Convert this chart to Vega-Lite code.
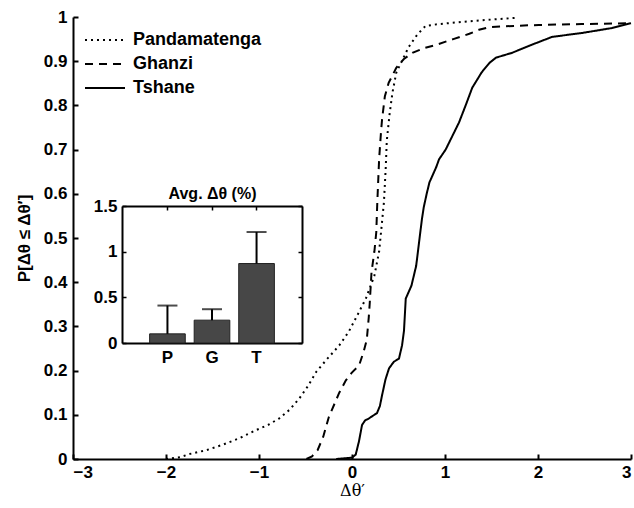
{
  "$schema": "https://vega.github.io/schema/vega-lite/v6.json",
  "width": 558,
  "height": 442,
  "autosize": "none",
  "padding": {"left": 73, "top": 17, "right": 3, "bottom": 49},
  "background": "white",
  "config": {
    "view": {"stroke": null},
    "font": "Liberation Sans",
    "axis": {"labelFont": "Liberation Sans", "labelFontWeight": "bold", "labelFontSize": 17, "labelColor": "black", "domainColor": "black", "tickColor": "black", "grid": false}
  },
  "layer": [
    {
      "data": {"values": [
        {"s": "Pandamatenga", "x": -2.0, "y": 0},
        {"s": "Pandamatenga", "x": -1.85, "y": 0.004},
        {"s": "Pandamatenga", "x": -1.751, "y": 0.011},
        {"s": "Pandamatenga", "x": -1.567, "y": 0.02},
        {"s": "Pandamatenga", "x": -1.394, "y": 0.032},
        {"s": "Pandamatenga", "x": -1.21, "y": 0.047},
        {"s": "Pandamatenga", "x": -1.036, "y": 0.065},
        {"s": "Pandamatenga", "x": -0.903, "y": 0.077},
        {"s": "Pandamatenga", "x": -0.781, "y": 0.092},
        {"s": "Pandamatenga", "x": -0.668, "y": 0.112},
        {"s": "Pandamatenga", "x": -0.566, "y": 0.137},
        {"s": "Pandamatenga", "x": -0.474, "y": 0.165},
        {"s": "Pandamatenga", "x": -0.382, "y": 0.198},
        {"s": "Pandamatenga", "x": -0.26, "y": 0.228},
        {"s": "Pandamatenga", "x": -0.137, "y": 0.257},
        {"s": "Pandamatenga", "x": -0.035, "y": 0.288},
        {"s": "Pandamatenga", "x": 0.057, "y": 0.325},
        {"s": "Pandamatenga", "x": 0.149, "y": 0.363},
        {"s": "Pandamatenga", "x": 0.241, "y": 0.415},
        {"s": "Pandamatenga", "x": 0.292, "y": 0.47},
        {"s": "Pandamatenga", "x": 0.312, "y": 0.513},
        {"s": "Pandamatenga", "x": 0.343, "y": 0.58},
        {"s": "Pandamatenga", "x": 0.363, "y": 0.66},
        {"s": "Pandamatenga", "x": 0.374, "y": 0.72},
        {"s": "Pandamatenga", "x": 0.404, "y": 0.78},
        {"s": "Pandamatenga", "x": 0.435, "y": 0.829},
        {"s": "Pandamatenga", "x": 0.476, "y": 0.874},
        {"s": "Pandamatenga", "x": 0.547, "y": 0.905},
        {"s": "Pandamatenga", "x": 0.609, "y": 0.932},
        {"s": "Pandamatenga", "x": 0.701, "y": 0.96},
        {"s": "Pandamatenga", "x": 0.792, "y": 0.98},
        {"s": "Pandamatenga", "x": 0.936, "y": 0.984},
        {"s": "Pandamatenga", "x": 1.242, "y": 0.99},
        {"s": "Pandamatenga", "x": 1.548, "y": 0.995},
        {"s": "Pandamatenga", "x": 1.763, "y": 0.998},
        {"s": "Ghanzi", "x": -0.49, "y": 0},
        {"s": "Ghanzi", "x": -0.43, "y": 0.006},
        {"s": "Ghanzi", "x": -0.37, "y": 0.02},
        {"s": "Ghanzi", "x": -0.31, "y": 0.05},
        {"s": "Ghanzi", "x": -0.249, "y": 0.095},
        {"s": "Ghanzi", "x": -0.137, "y": 0.15},
        {"s": "Ghanzi", "x": -0.066, "y": 0.178},
        {"s": "Ghanzi", "x": -0.004, "y": 0.195},
        {"s": "Ghanzi", "x": 0.077, "y": 0.212},
        {"s": "Ghanzi", "x": 0.128, "y": 0.245},
        {"s": "Ghanzi", "x": 0.159, "y": 0.27},
        {"s": "Ghanzi", "x": 0.18, "y": 0.32},
        {"s": "Ghanzi", "x": 0.19, "y": 0.35},
        {"s": "Ghanzi", "x": 0.21, "y": 0.423},
        {"s": "Ghanzi", "x": 0.241, "y": 0.47},
        {"s": "Ghanzi", "x": 0.261, "y": 0.513},
        {"s": "Ghanzi", "x": 0.272, "y": 0.58},
        {"s": "Ghanzi", "x": 0.292, "y": 0.68},
        {"s": "Ghanzi", "x": 0.312, "y": 0.74},
        {"s": "Ghanzi", "x": 0.323, "y": 0.768},
        {"s": "Ghanzi", "x": 0.353, "y": 0.82},
        {"s": "Ghanzi", "x": 0.394, "y": 0.851},
        {"s": "Ghanzi", "x": 0.476, "y": 0.885},
        {"s": "Ghanzi", "x": 0.558, "y": 0.905},
        {"s": "Ghanzi", "x": 0.649, "y": 0.919},
        {"s": "Ghanzi", "x": 0.782, "y": 0.93},
        {"s": "Ghanzi", "x": 0.905, "y": 0.937},
        {"s": "Ghanzi", "x": 1.089, "y": 0.95},
        {"s": "Ghanzi", "x": 1.262, "y": 0.962},
        {"s": "Ghanzi", "x": 1.365, "y": 0.971},
        {"s": "Ghanzi", "x": 1.477, "y": 0.977},
        {"s": "Ghanzi", "x": 1.753, "y": 0.98},
        {"s": "Ghanzi", "x": 2.008, "y": 0.982},
        {"s": "Ghanzi", "x": 2.468, "y": 0.984},
        {"s": "Ghanzi", "x": 3.0, "y": 0.986},
        {"s": "Tshane", "x": -0.17, "y": 0},
        {"s": "Tshane", "x": 0.0, "y": 0.003},
        {"s": "Tshane", "x": 0.04, "y": 0.01},
        {"s": "Tshane", "x": 0.075, "y": 0.04},
        {"s": "Tshane", "x": 0.108, "y": 0.077},
        {"s": "Tshane", "x": 0.14, "y": 0.087},
        {"s": "Tshane", "x": 0.183, "y": 0.092},
        {"s": "Tshane", "x": 0.269, "y": 0.104},
        {"s": "Tshane", "x": 0.3, "y": 0.12},
        {"s": "Tshane", "x": 0.323, "y": 0.144},
        {"s": "Tshane", "x": 0.36, "y": 0.18},
        {"s": "Tshane", "x": 0.398, "y": 0.205},
        {"s": "Tshane", "x": 0.45, "y": 0.22},
        {"s": "Tshane", "x": 0.505, "y": 0.227},
        {"s": "Tshane", "x": 0.538, "y": 0.257},
        {"s": "Tshane", "x": 0.559, "y": 0.29},
        {"s": "Tshane", "x": 0.578, "y": 0.363},
        {"s": "Tshane", "x": 0.639, "y": 0.392},
        {"s": "Tshane", "x": 0.69, "y": 0.437},
        {"s": "Tshane", "x": 0.721, "y": 0.49},
        {"s": "Tshane", "x": 0.752, "y": 0.543},
        {"s": "Tshane", "x": 0.772, "y": 0.57},
        {"s": "Tshane", "x": 0.803, "y": 0.6},
        {"s": "Tshane", "x": 0.833, "y": 0.626},
        {"s": "Tshane", "x": 0.905, "y": 0.66},
        {"s": "Tshane", "x": 0.936, "y": 0.678},
        {"s": "Tshane", "x": 1.007, "y": 0.7},
        {"s": "Tshane", "x": 1.15, "y": 0.761},
        {"s": "Tshane", "x": 1.222, "y": 0.8},
        {"s": "Tshane", "x": 1.293, "y": 0.84},
        {"s": "Tshane", "x": 1.395, "y": 0.875},
        {"s": "Tshane", "x": 1.477, "y": 0.896},
        {"s": "Tshane", "x": 1.548, "y": 0.908},
        {"s": "Tshane", "x": 1.722, "y": 0.919},
        {"s": "Tshane", "x": 1.906, "y": 0.935},
        {"s": "Tshane", "x": 2.151, "y": 0.955},
        {"s": "Tshane", "x": 2.478, "y": 0.964},
        {"s": "Tshane", "x": 2.795, "y": 0.975},
        {"s": "Tshane", "x": 3.0, "y": 0.986}
      ]},
      "mark": {"type": "line", "color": "black", "strokeWidth": 2},
      "encoding": {
        "x": {"field": "x", "type": "quantitative",
          "scale": {"domain": [-3, 3], "nice": false, "zero": false},
          "axis": {"orient": "bottom", "values": [-3, -2, -1, 0, 1, 2, 3], "format": "~g", "domainWidth": 2, "tickWidth": 2, "tickSize": -5, "labelPadding": 10,
            "title": "Δθ′", "titleFont": "DejaVu Serif", "titleFontWeight": "normal", "titleFontSize": 16, "titlePadding": 2}},
        "y": {"field": "y", "type": "quantitative",
          "scale": {"domain": [0, 1], "nice": false},
          "axis": {"orient": "left", "values": [0, 0.1, 0.2, 0.3, 0.4, 0.5, 0.6, 0.7, 0.8, 0.9, 1], "format": "~g", "domainWidth": 2, "tickWidth": 2, "tickSize": -5, "labelPadding": 11,
            "title": "P[Δθ ≤ Δθ′]", "titleFont": "Liberation Sans", "titleFontWeight": "bold", "titleFontSize": 17, "titlePadding": 10}},
        "strokeDash": {"field": "s", "type": "nominal",
          "scale": {"domain": ["Pandamatenga", "Ghanzi", "Tshane"], "range": [[2, 4], [8, 6], [1, 0]]},
          "legend": {"title": null, "orient": "none", "legendX": 23, "legendY": 14, "symbolType": "M-4,0H4", "symbolSize": 100, "symbolStrokeWidth": 2, "symbolStrokeColor": "black",
            "labelFont": "Liberation Sans", "labelFontWeight": "bold", "labelFontSize": 18, "labelColor": "black", "labelOffset": 19, "rowPadding": 6}}
      }
    },
    {
      "data": {"values": [
        {"site": "P", "mean": 0.1, "upper": 0.41},
        {"site": "G", "mean": 0.25, "upper": 0.37},
        {"site": "T", "mean": 0.87, "upper": 1.215}
      ]},
      "layer": [
        {
          "mark": {"type": "bar", "fill": "#474747", "stroke": "#222222", "strokeWidth": 1},
          "encoding": {
            "x": {"field": "site", "type": "nominal",
              "scale": {"domain": ["P", "G", "T"], "range": [49, 229], "paddingInner": 0.2, "paddingOuter": 0.62},
              "axis": {"orient": "bottom", "offset": -116, "title": null, "labelAngle": 0, "domainWidth": 2, "tickWidth": 1.5, "tickSize": -4, "labelPadding": 10}},
            "y": {"field": "mean", "type": "quantitative",
              "scale": {"domain": [0, 1.5], "range": [326, 189], "nice": false},
              "axis": {"orient": "left", "offset": -49, "title": null, "values": [0, 0.5, 1, 1.5], "format": "~g", "domainWidth": 2, "tickWidth": 1.5, "tickSize": -4, "labelPadding": 9}}
          }
        },
        {
          "mark": {"type": "rule", "color": "black", "strokeWidth": 2},
          "encoding": {
            "x": {"field": "site", "type": "nominal",
              "scale": {"domain": ["P", "G", "T"], "range": [49, 229], "paddingInner": 0.2, "paddingOuter": 0.62},
              "axis": {"orient": "top", "offset": -189, "labels": false, "domainWidth": 2, "tickWidth": 1.5, "tickSize": -4,
                "title": "Avg. Δθ (%)", "titleFont": "Liberation Sans", "titleFontWeight": "bold", "titleFontSize": 16, "titlePadding": 4}},
            "y": {"field": "mean", "type": "quantitative",
              "scale": {"domain": [0, 1.5], "range": [326, 189], "nice": false},
              "axis": {"orient": "right", "offset": -329, "labels": false, "title": null, "values": [0, 0.5, 1, 1.5], "domainWidth": 2, "tickWidth": 1.5, "tickSize": -4}},
            "y2": {"field": "upper"}
          }
        },
        {
          "mark": {"type": "tick", "color": "black", "size": 20, "thickness": 2},
          "encoding": {
            "x": {"field": "site", "type": "nominal",
              "scale": {"domain": ["P", "G", "T"], "range": [49, 229], "paddingInner": 0.2, "paddingOuter": 0.62},
              "axis": null},
            "y": {"field": "upper", "type": "quantitative",
              "scale": {"domain": [0, 1.5], "range": [326, 189], "nice": false},
              "axis": null}
          }
        }
      ],
      "resolve": {"axis": {"x": "independent", "y": "independent"}}
    }
  ],
  "resolve": {"scale": {"x": "independent", "y": "independent", "strokeDash": "independent"}, "axis": {"x": "independent", "y": "independent"}}
}
